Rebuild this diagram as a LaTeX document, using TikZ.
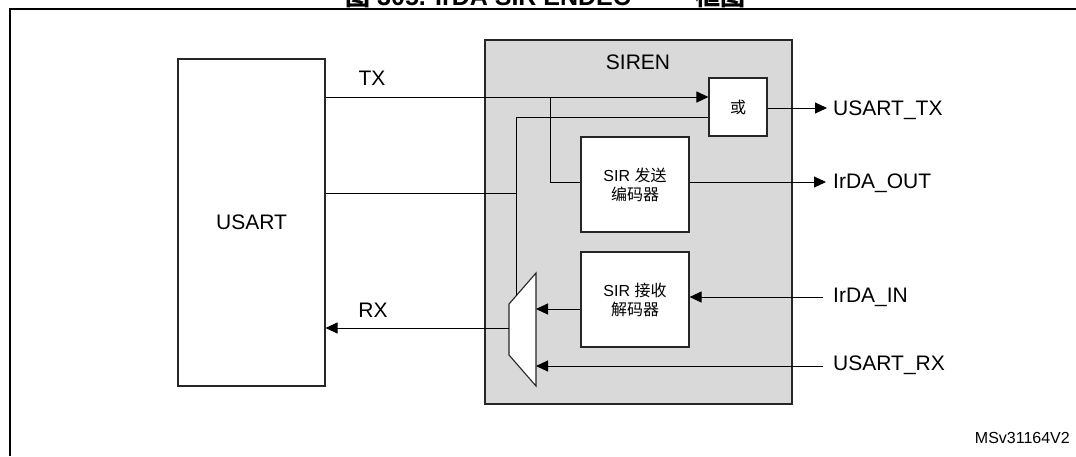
\documentclass[tikz,border=0pt]{standalone}
\usepackage{fontspec}
\setmainfont{Liberation Sans}
\newfontfamily\cjk{Noto Sans CJK SC}
\usetikzlibrary{arrows.meta}
\definecolor{sirengray}{RGB}{217,217,217}
\begin{document}
\begin{tikzpicture}[x=1pt,y=-1pt,
  box/.style={draw=black!85,line width=1.1pt,fill=white,inner sep=0pt,font=\fontsize{16}{20}\selectfont,align=center},
  lbl/.style={inner sep=0pt,font=\fontsize{21}{25}\selectfont},
  wire/.style={line width=1pt},
  arr/.style={wire,-{Triangle[length=12pt,width=11pt]}},
  ttl/.style={inner sep=0pt,font=\fontsize{25}{30}\selectfont\bfseries}
]
\useasboundingbox (0,0) rectangle (1076,456);
% clipped title
\begin{scope}
\clip (0,0) rectangle (1076,7);
\node[ttl,anchor=base west] (t1) at (345,5) {\cjk 图};
\node[ttl,anchor=base west] (t2) at (377,5) {305. IrDA SIR ENDEC};
\node[ttl,anchor=base west] (t3) at (695,5) {\cjk 框图};
\end{scope}
% frame
\draw[line width=2.2pt] (10,456) -- (10,9) -- (1076,9);

% boxes
\node[box,minimum width=147pt,minimum height=327pt] (usart) at (251.5,222.5) {};
\node[lbl] (usartl) at (251.5,222) {USART};
\node[draw=black!85,line width=1.1pt,fill=sirengray,minimum width=307pt,minimum height=364pt,inner sep=0pt] (siren) at (638.5,222) {};
\node[lbl] (sirenl) at (638,62) {SIREN};
\node[box,minimum width=58pt,minimum height=58pt] (or) at (738,107) {\cjk 或};
\node[box,minimum width=108pt,minimum height=95pt] (enc) at (635,184.5) {SIR {\cjk 发送}\\[-1pt]{\cjk 编码器}};
\node[box,minimum width=108pt,minimum height=95pt] (dec) at (635,299.5) {SIR {\cjk 接收}\\[-1pt]{\cjk 解码器}};

% mux trapezoid
\coordinate (m1) at (509,304);
\coordinate (m2) at (536,273);
\coordinate (m3) at (536,386);
\coordinate (m4) at (509,355);
\draw[fill=white,line width=1.1pt,draw=black!85] (m1) -- (m2) -- (m3) -- (m4) -- cycle;

% level coordinates
\coordinate (yTX) at (0,97);
\coordinate (yFB) at (0,117);
\coordinate (yCT) at (0,193);
\coordinate (yOUT) at (0,182);
\coordinate (yUTX) at (0,108);
\coordinate (yIN) at (0,297);
\coordinate (yDM) at (0,309);
\coordinate (yRX) at (0,328);
\coordinate (yURX) at (0,366);
\coordinate (br) at (550,97);
\coordinate (fbx) at (516,296);
\coordinate (muxl) at (509,328);

% wires
\draw[arr] (usart.east |- yTX) -- (or.west |- yTX);
\draw[wire] (br) |- (enc.west |- yOUT);
\draw[wire] (fbx) |- (or.west |- yFB);
\draw[wire] (usart.east |- yCT) -- (fbx |- yCT);
\draw[arr] (muxl) -- (usart.east |- yRX);
\draw[arr] (dec.west |- yDM) -- (m2 |- yDM);
\draw[arr] (or.east |- yUTX) -- (827,108) coordinate (utxend);
\draw[arr] (enc.east |- yOUT) -- (826,182) coordinate (outend);
\draw[arr] (823,297) coordinate (inend) -- (dec.east |- yIN);
\draw[arr] (823,366) coordinate (rxend) -- (m2 |- yURX);

% labels
\node[lbl,anchor=west] (lutx) at (833,110) {USART\_TX};
\node[lbl,anchor=west] (lout) at (833,183) {IrDA\_OUT};
\node[lbl,anchor=west] (lin) at (833,297) {IrDA\_IN};
\node[lbl,anchor=west] (lurx) at (833,365) {USART\_RX};
\node[lbl] (ltx) at (372,78) {TX};
\node[lbl] (lrx) at (373,310) {RX};
\node[inner sep=0pt,font=\fontsize{16}{20}\selectfont,anchor=east] (ms) at (1070,438) {MSv31164V2};
\end{tikzpicture}
\end{document}
